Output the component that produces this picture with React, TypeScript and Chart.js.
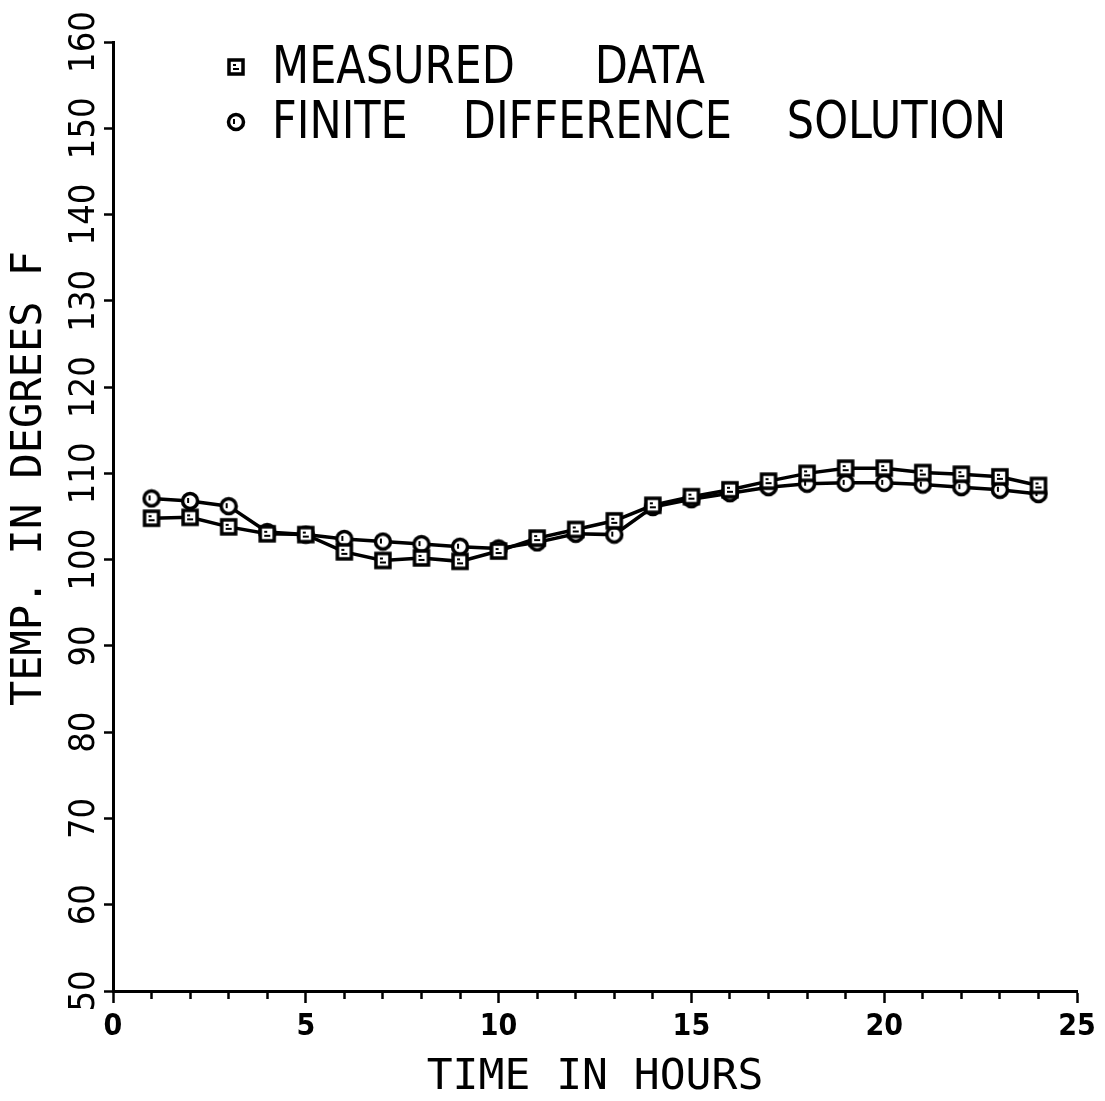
import React, { useEffect, useRef } from 'react';
import { Chart, registerables } from 'chart.js';

Chart.register(...registerables);

const hours = [1, 2, 3, 4, 5, 6, 7, 8, 9, 10, 11, 12, 13, 14, 15, 16, 17, 18, 19, 20, 21, 22, 23, 24];
const measuredData = [104.8, 104.9, 103.8, 103.0, 102.9, 100.9, 99.9, 100.2, 99.8, 101.0, 102.5, 103.5, 104.5, 106.3, 107.3, 108.1, 109.1, 110.0, 110.6, 110.6, 110.1, 109.9, 109.6, 108.6];
const finiteDifference = [107.1, 106.8, 106.2, 103.2, 102.9, 102.4, 102.1, 101.8, 101.5, 101.3, 102.0, 103.0, 102.9, 106.1, 107.0, 107.7, 108.4, 108.8, 108.9, 108.9, 108.7, 108.4, 108.1, 107.6];
const legendLabels = ['MEASURED DATA', 'FINITE DIFFERENCE SOLUTION'];
const xTitle = 'TIME IN HOURS';
const yTitle = 'TEMP. IN DEGREES F';

const NARROW = '"Liberation Sans Narrow", "DejaVu Sans Condensed", "Liberation Sans", sans-serif';
const MONO = '"DejaVu Sans Mono", "Liberation Mono", monospace';

function makeSquare(): HTMLCanvasElement {
  const c = document.createElement('canvas');
  c.width = 20; c.height = 20;
  const g = c.getContext('2d')!;
  g.fillStyle = '#fff';
  g.fillRect(2, 2, 16, 16);
  g.strokeStyle = '#000';
  g.lineWidth = 3.5;
  g.strokeRect(3, 3, 14, 14);
  g.lineWidth = 2;
  g.beginPath();
  g.moveTo(7, 8); g.lineTo(10, 8);
  g.moveTo(7, 12); g.lineTo(13, 12);
  g.stroke();
  return c;
}

function makeCircle(): HTMLCanvasElement {
  const c = document.createElement('canvas');
  c.width = 20; c.height = 20;
  const g = c.getContext('2d')!;
  g.fillStyle = '#fff';
  g.beginPath();
  g.arc(10, 10, 7.5, 0, Math.PI * 2);
  g.fill();
  g.strokeStyle = '#000';
  g.lineWidth = 3.5;
  g.stroke();
  g.lineWidth = 2;
  g.beginPath();
  g.moveTo(8, 7); g.lineTo(8, 12);
  g.stroke();
  return c;
}

export default function App() {
  const ref = useRef<HTMLCanvasElement>(null);
  useEffect(() => {
    if (!ref.current) return;
    const sq = makeSquare();
    const ci = makeCircle();
    const markers = [sq, ci];

    const legendPlugin = {
      id: 'insideLegend',
      afterDraw(chart: any) {
        const { ctx, chartArea } = chart;
        ctx.save();
        ctx.fillStyle = '#000';
        ctx.font = `52px ${NARROW}`;
        ctx.textBaseline = 'middle';
        ctx.textAlign = 'left';
        const rows = [67, 122];
        const sx = 0.92;
        legendLabels.forEach((lab, i) => {
          const y = rows[i];
          const mx = chartArea.left + 123;
          ctx.drawImage(markers[i], mx - 10, y - 10);
          let x = chartArea.left + 159;
          const words = lab.split(' ');
          words.forEach((w) => {
            ctx.save();
            ctx.translate(x, y + 2);
            ctx.scale(sx, 1);
            ctx.fillText(w, 0, 0);
            ctx.restore();
            x += ctx.measureText(w).width * sx + (i === 0 ? 80 : 55);
          });
        });
        // y axis title
        ctx.save();
        ctx.font = `42px ${MONO}`;
        ctx.textAlign = 'center';
        ctx.textBaseline = 'middle';
        ctx.translate(30, chartArea.top + (chartArea.bottom - chartArea.top) * 0.46);
        ctx.rotate(-Math.PI / 2);
        ctx.fillText(yTitle, 0, 0);
        ctx.restore();
        ctx.restore();
      },
    };

    const chart = new Chart(ref.current, {
      type: 'line',
      data: {
        datasets: [
          {
            label: legendLabels[0],
            data: hours.map((h, i) => ({ x: h, y: measuredData[i] })),
            borderColor: '#000',
            borderWidth: 3.5,
            pointStyle: sq as any,
            pointRadius: 9,
            tension: 0,
          },
          {
            label: legendLabels[1],
            data: hours.map((h, i) => ({ x: h, y: finiteDifference[i] })),
            borderColor: '#000',
            borderWidth: 3.5,
            pointStyle: ci as any,
            pointRadius: 9,
            tension: 0,
          },
        ],
      },
      options: {
        animation: false,
        responsive: false,
        maintainAspectRatio: false,
        layout: { padding: { left: 0, top: 42, right: 28, bottom: 0 } },
        plugins: {
          legend: { display: false },
          tooltip: { enabled: false },
        },
        scales: {
          x: {
            type: 'linear',
            min: 0,
            max: 25,
            border: { display: true, color: '#000', width: 3 },
            grid: {
              display: true,
              drawOnChartArea: false,
              drawTicks: true,
              tickLength: 12,
              tickColor: '#000',
              tickWidth: 2.5,
              tickBorderDash: (ctx: any) => (ctx.tick && ctx.tick.value % 5 === 0 ? [] : [6, 100]),
            } as any,
            ticks: {
              stepSize: 1,
              autoSkip: false,
              maxRotation: 0,
              minRotation: 0,
              padding: 6,
              color: '#000',
              font: { family: NARROW, size: 30, weight: 'bold' },
              callback: (v: any) => (Number(v) % 5 === 0 ? String(v) : ''),
            },
            title: {
              display: true,
              text: xTitle,
              color: '#000',
              font: { family: MONO, size: 43, lineHeight: 1 },
              padding: { top: 0, bottom: 2 },
            },
            afterFit: (scale: any) => { scale.height = 110; },
          },
          y: {
            type: 'linear',
            min: 50,
            max: 160,
            border: { display: true, color: '#000', width: 3 },
            grid: {
              display: true,
              drawOnChartArea: false,
              drawTicks: true,
              tickLength: 9,
              tickColor: '#000',
              tickWidth: 2.5,
            },
            ticks: {
              stepSize: 10,
              minRotation: 90,
              maxRotation: 90,
              crossAlign: 'center',
              padding: -12,
              color: '#000',
              font: { family: NARROW, size: 36 },
            },
            title: { display: false },
            afterFit: (scale: any) => { scale.width = 113; },
          },
        },
      },
      plugins: [legendPlugin],
    });
    return () => chart.destroy();
  }, []);

  return (
    <div style={{ position: 'absolute', left: 0, top: 0, width: 1105, height: 1101, background: '#fff' }}>
      <canvas ref={ref} width={1105} height={1101} style={{ width: 1105, height: 1101 }} />
    </div>
  );
}
